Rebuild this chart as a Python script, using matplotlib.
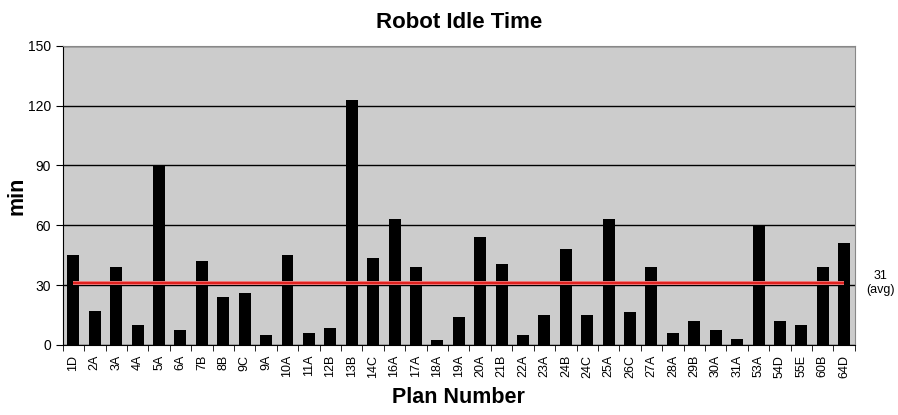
import numpy as np
import matplotlib.pyplot as plt

plt.rcParams['font.family'] = ['Liberation Sans', 'DejaVu Sans']

plans = ["1D", "2A", "3A", "4A", "5A", "6A", "7B", "8B", "9C", "9A",
         "10A", "11A", "12B", "13B", "14C", "16A", "17A", "18A", "19A", "20A",
         "21B", "22A", "23A", "24B", "24C", "25A", "26C", "27A", "28A", "29B",
         "30A", "31A", "53A", "54D", "55E", "60B", "64D"]
idle_min = [45, 17, 39, 10, 90, 7.5, 42, 24, 26, 5,
            45, 6, 8.5, 123, 43.5, 63, 39, 2.5, 14, 54,
            40.5, 5, 15, 48, 15, 63, 16.5, 39, 6, 12,
            7.5, 3, 60, 12, 10, 39, 51]
avg_min = 31
y_ticks = [0, 30, 60, 90, 120, 150]

fig = plt.figure(figsize=(8.98, 4.15), dpi=100)
ax = fig.add_axes([0.0698, 0.1687, 0.8822, 0.7213])
ax.set_facecolor('#cccccc')

x = np.arange(len(plans))
ax.bar(x, idle_min, width=0.56, color='black', zorder=3)

# average line
ax.plot([x[0], x[-1]], [avg_min, avg_min], color='#f08080', lw=2.8, zorder=4,
        solid_capstyle='butt')
ax.plot([x[0], x[-1]], [avg_min, avg_min], color='#e0201e', lw=1.6, zorder=5,
        solid_capstyle='butt')
ax.text(1.032, avg_min / 150, "31\n(avg)", transform=ax.transAxes,
        ha='center', va='center', fontsize=9, linespacing=1.25)

ax.set_xlim(-0.5, len(plans) - 0.5)
ax.set_ylim(0, 150)
ax.set_yticks(y_ticks)
ax.tick_params(axis='y', labelsize=10, length=5, direction='out')
ax.yaxis.grid(True, color='black', lw=1, zorder=1)

ax.set_xticks(x)
ax.set_xticklabels(plans, rotation=90, fontsize=9)
ax.tick_params(axis='x', which='major', length=0, pad=7)
ax.set_xticks(np.arange(-0.5, len(plans)), minor=True)
ax.tick_params(axis='x', which='minor', length=4, direction='out')

ax.spines['top'].set_color('#888888')
ax.spines['right'].set_color('#888888')
ax.spines['left'].set_color('black')
ax.spines['bottom'].set_color('black')

ax.set_title("Robot Idle Time", fontsize=16, fontweight='bold', pad=13)
ax.set_xlabel("Plan Number", fontsize=15.5, fontweight='bold', labelpad=7)
ax.set_ylabel("min", fontsize=15.5, fontweight='bold')
ax.yaxis.label.set_va('center')
ax.yaxis.set_label_coords(-0.058, 0.5)

fig.savefig("out.png", dpi=100)
